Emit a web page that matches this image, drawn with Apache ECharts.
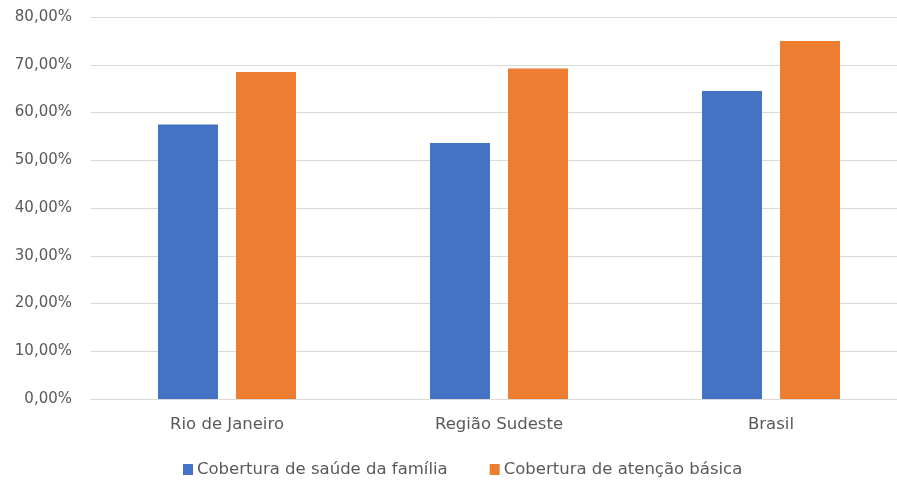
<!DOCTYPE html>
<html><head><meta charset="utf-8">
<script src="https://cdn.jsdelivr.net/npm/echarts@6/dist/echarts.min.js"></script>
<style>html,body{margin:0;padding:0;background:#fff}#c{width:897px;height:481px}</style>
</head><body><div id="c"></div>
<script>
const categories = ["Rio de Janeiro", "Região Sudeste", "Brasil"];
const saudeFamilia = [57.5, 53.6, 64.5];
const atencaoBasica = [68.5, 69.2, 75.0];
const seriesNames = ["Cobertura de saúde da família", "Cobertura de atenção básica"];
const yTicks = [0, 10, 20, 30, 40, 50, 60, 70, 80];

const chart = echarts.init(document.getElementById('c'));
const font = 'DejaVu Sans';
chart.setOption({
  animation: false,
  grid: { left: 91, width: 816, top: 17, bottom: 82, outerBoundsMode: 'none', containLabel: false },
  legend: {
    top: 456, left: 178,
    itemWidth: 10, itemHeight: 11, itemGap: 42,
    icon: 'rect',
    textStyle: { fontFamily: font, fontSize: 16.5, color: '#595959', padding: [0,0,0,-1] },
    data: seriesNames
  },
  xAxis: {
    type: 'category', data: categories,
    axisLine: { lineStyle: { color: '#d9d9d9' } },
    axisTick: { show: false },
    axisLabel: { fontFamily: font, fontSize: 16.5, color: '#595959', margin: 17 }
  },
  yAxis: {
    type: 'value', min: yTicks[0], max: yTicks[yTicks.length-1], interval: 10,
    axisLine: { show: false }, axisTick: { show: false },
    splitLine: { lineStyle: { color: '#d9d9d9' } },
    axisLabel: { fontFamily: font, fontSize: 15, color: '#595959', margin: 19,
      formatter: v => v.toFixed(2).replace('.', ',') + '%' }
  },
  series: [
    { name: seriesNames[0], type: 'bar', data: saudeFamilia, barWidth: 60, barGap: '30%',
      itemStyle: { color: '#4472c4' } },
    { name: seriesNames[1], type: 'bar', data: atencaoBasica, barWidth: 60,
      itemStyle: { color: '#ed7d31' } }
  ]
});
</script></body></html>
